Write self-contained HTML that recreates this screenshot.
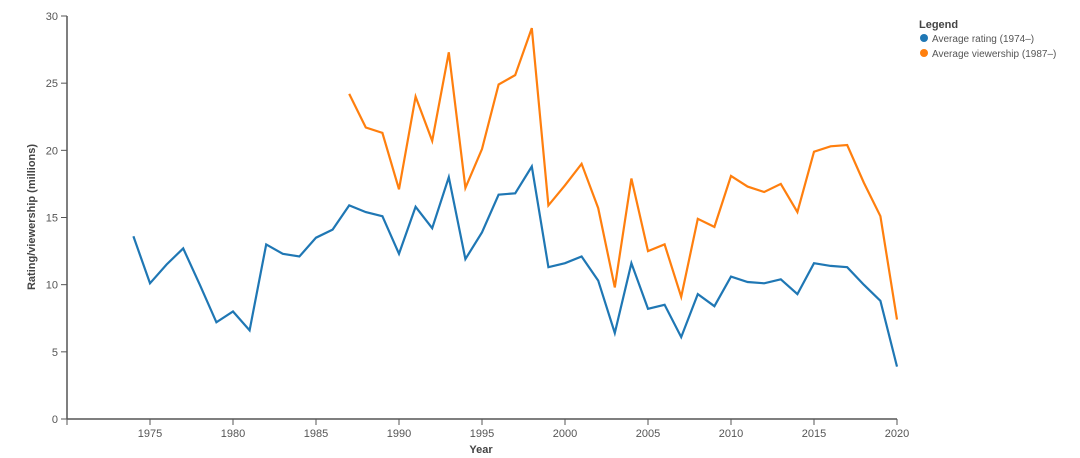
<!DOCTYPE html>
<html><head><meta charset="utf-8"><style>
body{margin:0;background:#fff;font-family:"Liberation Sans",sans-serif}
svg{display:block}
text{fill:#555;font-size:11px}
</style></head><body>
<svg id="chart" width="1080" height="458">
<g id="axes"></g><g id="lines"></g>
<text x="481" y="453" text-anchor="middle" style="font-weight:bold;fill:#444">Year</text>
<text transform="translate(35,217) rotate(-90)" text-anchor="middle" style="font-weight:bold;fill:#444">Rating/viewership (millions)</text>
<g>
<text x="919" y="28" style="font-weight:bold;fill:#444;font-size:11px">Legend</text>
<g><circle cx="924" cy="38" r="4" fill="#1f77b4"/><text x="932" y="42" style="font-size:10px">Average rating (1974–)</text></g>
<g><circle cx="924" cy="53" r="4" fill="#ff7f0e"/><text x="932" y="57" style="font-size:10px">Average viewership (1987–)</text></g>
</g>
</svg>
<script>
const ratingYears=[1974,1975,1976,1977,1978,1979,1980,1981,1982,1983,1984,1985,1986,1987,1988,1989,1990,1991,1992,1993,1994,1995,1996,1997,1998,1999,2000,2001,2002,2003,2004,2005,2006,2007,2008,2009,2010,2011,2012,2013,2014,2015,2016,2017,2018,2019,2020];
const ratingValues=[13.6,10.1,11.5,12.7,10.0,7.2,8.0,6.6,13.0,12.3,12.1,13.5,14.1,15.9,15.4,15.1,12.3,15.8,14.2,18.0,11.9,13.9,16.7,16.8,18.8,11.3,11.6,12.1,10.3,6.4,11.6,8.2,8.5,6.1,9.3,8.4,10.6,10.2,10.1,10.4,9.3,11.6,11.4,11.3,10.0,8.8,3.9];
const viewYears=[1987,1988,1989,1990,1991,1992,1993,1994,1995,1996,1997,1998,1999,2000,2001,2002,2003,2004,2005,2006,2007,2008,2009,2010,2011,2012,2013,2014,2015,2016,2017,2018,2019,2020];
const viewValues=[24.2,21.7,21.3,17.1,24.0,20.7,27.3,17.2,20.1,24.9,25.6,29.1,15.9,17.4,19.0,15.7,9.8,17.9,12.5,13.0,9.1,14.9,14.3,18.1,17.3,16.9,17.5,15.4,19.9,20.3,20.4,17.6,15.1,7.4];
const xTicks=[1975,1980,1985,1990,1995,2000,2005,2010,2015,2020];
const yTicks=[0,5,10,15,20,25,30];
const X0=67,X1=897,Y0=419,Y1=16,xmin=1970,xmax=2020,ymax=30;
const xs=v=>X0+(v-xmin)/(xmax-xmin)*(X1-X0);
const ys=v=>Y0-v/ymax*(Y0-Y1);
const NS="http://www.w3.org/2000/svg";
const axes=document.getElementById('axes'),lines=document.getElementById('lines');
function mk(tag,attrs,parent){const e=document.createElementNS(NS,tag);for(const k in attrs)e.setAttribute(k,attrs[k]);parent.appendChild(e);return e;}
const xa=mk('line',{x1:X0,x2:X1,y1:Y0,y2:Y0,stroke:'#555','stroke-width':1.5},axes);


const ya=mk('line',{x1:X0,x2:X0,y1:Y1,y2:Y0,stroke:'#555','stroke-width':1.5},axes);


mk('line',{x1:X0,x2:X0,y1:Y0,y2:Y0+6,stroke:'#555'},axes);
xTicks.forEach(t=>{
 mk('line',{x1:xs(t),x2:xs(t),y1:Y0,y2:Y0+6,stroke:'#555'},axes);
 const tx=mk('text',{x:xs(t),y:Y0+18,'text-anchor':'middle'},axes);tx.textContent=t;
 
 
});
yTicks.forEach(t=>{
 mk('line',{x1:X0-6,x2:X0,y1:ys(t),y2:ys(t),stroke:'#555'},axes);
 const tx=mk('text',{x:X0-9,y:ys(t)+4,'text-anchor':'end'},axes);tx.textContent=t;
 
 
});
function path(xv,yv,color,name){
 const d=xv.map((x,i)=>(i?'L':'M')+xs(x).toFixed(1)+','+ys(yv[i]).toFixed(1)).join('');
 const p=mk('path',{d:d,fill:'none',stroke:color,'stroke-width':2.2,'stroke-linejoin':'miter'},lines);
 
 
}
path(ratingYears,ratingValues,'#1f77b4','rating-line');
path(viewYears,viewValues,'#ff7f0e','viewership-line');
</script>
</body></html>
